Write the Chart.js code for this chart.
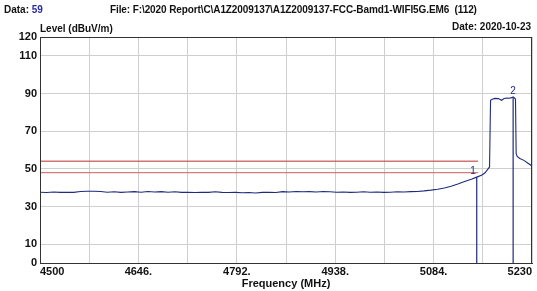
<!DOCTYPE html>
<html><head><meta charset="utf-8">
<script src="https://cdn.jsdelivr.net/npm/chart.js@4"></script>
<style>
html,body{margin:0;padding:0;background:#fff;}
#wrap{position:relative;width:537px;height:291px;overflow:hidden;font-family:"Liberation Sans",Arial,sans-serif;font-weight:bold;color:#111;}
canvas{position:absolute;left:0;top:0;}
.t{position:absolute;white-space:pre;font-size:10px;line-height:12px;}
</style></head><body>
<div id="wrap">
<canvas id="c" width="537" height="291"></canvas>
<div class="t" style="left:4px;top:4px;">Data: <span style="color:#2a2aa0">59</span></div>
<div class="t" id="file" style="left:110px;top:4px;letter-spacing:-0.1px;">File: F:\2020 Report\C\A1Z2009137\A1Z2009137-FCC-Bamd1-WIFI5G.EM6  (112)</div>
<div class="t" style="left:40px;top:23px;">Level (dBuV/m)</div>
<div class="t" style="right:6px;top:21px;">Date: 2020-10-23</div>
</div>
<script>
const freq = [4500,4510,4520,4530,4540,4550,4560,4570,4580,4590,4600,4610,4620,4630,4640,4650,4660,4670,4680,4690,4700,4710,4720,4730,4740,4750,4760,4770,4780,4790,4800,4810,4820,4830,4840,4850,4860,4870,4880,4890,4900,4910,4920,4930,4940,4950,4960,4970,4980,4990,5000,5010,5020,5030,5040,5050,5060,5070,5080,5090,5100,5110,5120,5130,5140,5148,5155,5160,5164,5167,5168.5,5171,5175,5180,5185,5188,5192,5196,5200,5202,5204,5205.5,5206.5,5208,5212,5218,5224,5230];
const level = [37.6,37.4,37.7,37.5,37.6,37.5,38.0,38.1,38.1,38.0,37.6,37.8,37.5,37.7,37.9,37.6,38.0,37.7,37.9,37.6,37.8,37.5,37.6,37.4,37.6,37.5,37.8,37.5,37.4,37.5,37.3,37.4,37.2,37.5,37.6,37.4,37.9,37.7,38.0,37.8,37.9,37.7,38.0,37.8,37.6,37.7,37.5,37.6,37.8,37.6,37.7,37.5,37.6,37.8,37.7,37.9,38.0,38.3,38.7,39.2,39.8,40.8,42.0,43.3,44.5,45.6,46.6,47.8,49.6,51.0,86.4,86.9,87.4,87.3,86.4,87.2,87.6,87.5,87.8,88.2,87.6,87.0,58,56.6,55.5,54.5,53.0,51.5];
const limitFreq = [4500,5150];
const limitUpper = [54,54];
const limitLower = [48,48];
const markerFreq = [5148,5202];
const markerLevel = [45.6,88.2];
const markerNames = ["1","2"];
const yTicks = [0,10,30,50,70,90,110,120];
const xLabels = {4500:"4500",4646:"4646.",4792:"4792.",4938:"4938.",5084:"5084.",5230:"5230"};

const navy = '#1f2b7d';
const trace = freq.map((f,i)=>({x:f,y:level[i]}));
const markerSets = markerFreq.map((f,i)=>({
  data:[{x:f,y:markerLevel[i]},{x:f,y:0}],
  borderColor:navy,borderWidth:1.2,pointRadius:0,fill:false
}));

const frame = {
  id:'frame',
  afterDraw(chart){
    const {ctx,chartArea:a,scales:{x,y}} = chart;
    ctx.save();
    ctx.strokeStyle='#333';ctx.lineWidth=1;
    ctx.strokeRect(Math.round(a.left)+0.5,Math.round(a.top)+0.5,Math.round(a.right-a.left)-1,Math.round(a.bottom-a.top));
    ctx.fillStyle=navy;ctx.font='10px "Liberation Sans", Arial, sans-serif';
    ctx.textBaseline='bottom';
    markerFreq.forEach((f,i)=>{
      const px=x.getPixelForValue(f), py=y.getPixelForValue(markerLevel[i]);
      ctx.textAlign = i===0?'right':'center';
      ctx.fillText(markerNames[i], i===0?px-1:px, py-1);
    });
    ctx.restore();
  }
};

new Chart(document.getElementById('c'),{
  type:'line',
  data:{datasets:[
    {data:trace,borderColor:navy,borderWidth:1.1,pointRadius:0,tension:0,fill:false},
    {data:limitFreq.map((f,i)=>({x:f,y:limitUpper[i]})),borderColor:'rgba(205,90,90,0.85)',borderWidth:1.6,pointRadius:0},
    {data:limitFreq.map((f,i)=>({x:f,y:limitLower[i]})),borderColor:'rgba(205,90,90,0.8)',borderWidth:1.3,pointRadius:0},
    ...markerSets
  ]},
  options:{
    responsive:false,animation:false,
    layout:{padding:{top:37,right:5,left:0,bottom:0}},
    plugins:{legend:{display:false},tooltip:{enabled:false}},
    scales:{
      x:{type:'linear',min:4500,max:5230,
        afterBuildTicks(s){s.ticks=[];for(let v=4500;v<=5230;v+=73)s.ticks.push({value:v});},
        afterFit(s){s.height=28;},
        grid:{color:'#cfcfcf',lineWidth:1,drawTicks:false},
        border:{color:'#333'},
        ticks:{align:'inner',padding:2,maxRotation:0,autoSkip:false,color:'#111',font:{family:'"Liberation Sans", Arial, sans-serif',size:11,weight:'bold'},
          callback(v){return xLabels[v]!==undefined?xLabels[v]:'';}},
        title:{display:true,text:'Frequency (MHz)',color:'#111',padding:{top:0,bottom:0},font:{family:'"Liberation Sans", Arial, sans-serif',size:11,weight:'bold'}}
      },
      y:{type:'linear',min:0,max:120,
        afterBuildTicks(s){s.ticks=yTicks.map(v=>({value:v}));},
        afterFit(s){s.width=40;},
        grid:{color:'#cfcfcf',lineWidth:1,drawTicks:false},
        border:{color:'#333'},
        ticks:{padding:3,color:'#111',font:{family:'"Liberation Sans", Arial, sans-serif',size:11,weight:'bold'}}
      }
    }
  },
  plugins:[frame]
});
</script>
</body></html>
